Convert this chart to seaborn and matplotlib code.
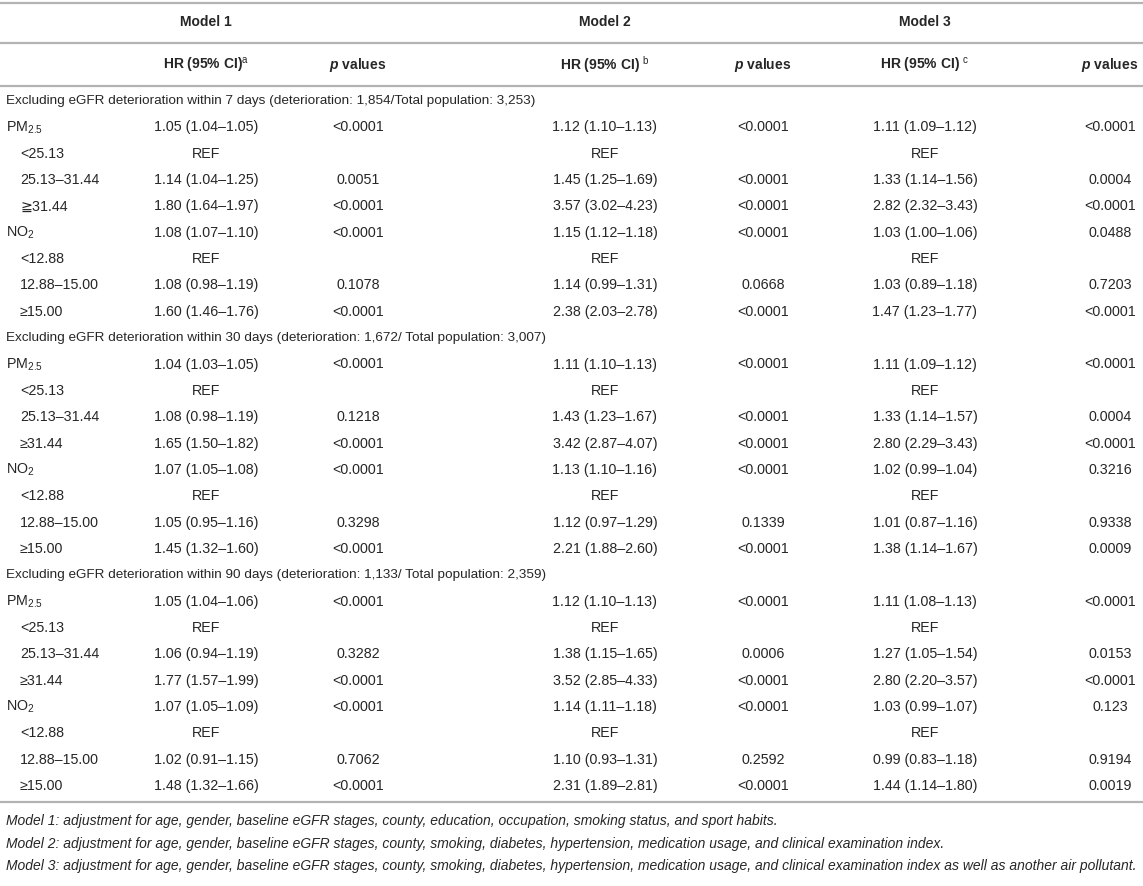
import matplotlib
matplotlib.use("Agg")
import matplotlib.pyplot as plt
import seaborn as sns
import pandas as pd

# --- données du tableau ---
SECTION_TITLES = [
    "Excluding eGFR deterioration within 7 days (deterioration: 1,854/Total population: 3,253)",
    "Excluding eGFR deterioration within 30 days (deterioration: 1,672/ Total population: 3,007)",
    "Excluding eGFR deterioration within 90 days (deterioration: 1,133/ Total population: 2,359)",
]
LABELS_7 = ["PM$_{\\mathrm{2.5}}$", "<25.13", "25.13–31.44", "≧31.44",
            "NO$_{\\mathrm{2}}$", "<12.88", "12.88–15.00", "≥15.00"]
LABELS = ["PM$_{\\mathrm{2.5}}$", "<25.13", "25.13–31.44", "≥31.44",
          "NO$_{\\mathrm{2}}$", "<12.88", "12.88–15.00", "≥15.00"]
INDENTED = [False, True, True, True, False, True, True, True]

m1_hr_7 = ["1.05 (1.04–1.05)", "REF", "1.14 (1.04–1.25)", "1.80 (1.64–1.97)", "1.08 (1.07–1.10)", "REF", "1.08 (0.98–1.19)", "1.60 (1.46–1.76)"]
m1_p_7 = ["<0.0001", "", "0.0051", "<0.0001", "<0.0001", "", "0.1078", "<0.0001"]
m2_hr_7 = ["1.12 (1.10–1.13)", "REF", "1.45 (1.25–1.69)", "3.57 (3.02–4.23)", "1.15 (1.12–1.18)", "REF", "1.14 (0.99–1.31)", "2.38 (2.03–2.78)"]
m2_p_7 = ["<0.0001", "", "<0.0001", "<0.0001", "<0.0001", "", "0.0668", "<0.0001"]
m3_hr_7 = ["1.11 (1.09–1.12)", "REF", "1.33 (1.14–1.56)", "2.82 (2.32–3.43)", "1.03 (1.00–1.06)", "REF", "1.03 (0.89–1.18)", "1.47 (1.23–1.77)"]
m3_p_7 = ["<0.0001", "", "0.0004", "<0.0001", "0.0488", "", "0.7203", "<0.0001"]

m1_hr_30 = ["1.04 (1.03–1.05)", "REF", "1.08 (0.98–1.19)", "1.65 (1.50–1.82)", "1.07 (1.05–1.08)", "REF", "1.05 (0.95–1.16)", "1.45 (1.32–1.60)"]
m1_p_30 = ["<0.0001", "", "0.1218", "<0.0001", "<0.0001", "", "0.3298", "<0.0001"]
m2_hr_30 = ["1.11 (1.10–1.13)", "REF", "1.43 (1.23–1.67)", "3.42 (2.87–4.07)", "1.13 (1.10–1.16)", "REF", "1.12 (0.97–1.29)", "2.21 (1.88–2.60)"]
m2_p_30 = ["<0.0001", "", "<0.0001", "<0.0001", "<0.0001", "", "0.1339", "<0.0001"]
m3_hr_30 = ["1.11 (1.09–1.12)", "REF", "1.33 (1.14–1.57)", "2.80 (2.29–3.43)", "1.02 (0.99–1.04)", "REF", "1.01 (0.87–1.16)", "1.38 (1.14–1.67)"]
m3_p_30 = ["<0.0001", "", "0.0004", "<0.0001", "0.3216", "", "0.9338", "0.0009"]

m1_hr_90 = ["1.05 (1.04–1.06)", "REF", "1.06 (0.94–1.19)", "1.77 (1.57–1.99)", "1.07 (1.05–1.09)", "REF", "1.02 (0.91–1.15)", "1.48 (1.32–1.66)"]
m1_p_90 = ["<0.0001", "", "0.3282", "<0.0001", "<0.0001", "", "0.7062", "<0.0001"]
m2_hr_90 = ["1.12 (1.10–1.13)", "REF", "1.38 (1.15–1.65)", "3.52 (2.85–4.33)", "1.14 (1.11–1.18)", "REF", "1.10 (0.93–1.31)", "2.31 (1.89–2.81)"]
m2_p_90 = ["<0.0001", "", "0.0006", "<0.0001", "<0.0001", "", "0.2592", "<0.0001"]
m3_hr_90 = ["1.11 (1.08–1.13)", "REF", "1.27 (1.05–1.54)", "2.80 (2.20–3.57)", "1.03 (0.99–1.07)", "REF", "0.99 (0.83–1.18)", "1.44 (1.14–1.80)"]
m3_p_90 = ["<0.0001", "", "0.0153", "<0.0001", "0.123", "", "0.9194", "0.0019"]

FOOTNOTES = [
    "Model 1: adjustment for age, gender, baseline eGFR stages, county, education, occupation, smoking status, and sport habits.",
    "Model 2: adjustment for age, gender, baseline eGFR stages, county, smoking, diabetes, hypertension, medication usage, and clinical examination index.",
    "Model 3: adjustment for age, gender, baseline eGFR stages, county, smoking, diabetes, hypertension, medication usage, and clinical examination index as well as another air pollutant.",
]

# on assemble tout dans un DataFrame (une ligne par ligne du tableau)
blocks = [
    (LABELS_7, m1_hr_7, m1_p_7, m2_hr_7, m2_p_7, m3_hr_7, m3_p_7),
    (LABELS, m1_hr_30, m1_p_30, m2_hr_30, m2_p_30, m3_hr_30, m3_p_30),
    (LABELS, m1_hr_90, m1_p_90, m2_hr_90, m2_p_90, m3_hr_90, m3_p_90),
]
rows = []
for title, blk in zip(SECTION_TITLES, blocks):
    rows.append({"label": title, "kind": "section"})
    for i in range(len(blk[0])):
        rows.append({"label": blk[0][i], "kind": "sub" if INDENTED[i] else "main",
                     "hr1": blk[1][i], "p1": blk[2][i], "hr2": blk[3][i],
                     "p2": blk[4][i], "hr3": blk[5][i], "p3": blk[6][i]})
df = pd.DataFrame(rows).fillna("")

# --- style ---
sns.set_theme(style="white")
plt.rcParams["font.family"] = ["Liberation Sans", "DejaVu Sans"]
plt.rcParams["mathtext.fontset"] = "custom"
plt.rcParams["mathtext.rm"] = "Liberation Sans"
plt.rcParams["mathtext.it"] = "Liberation Sans:italic"
plt.rcParams["mathtext.bf"] = "Liberation Sans:bold"
try:
    plt.rcParams["mathtext.bfit"] = "Liberation Sans:italic:bold"
    P_TXT = "$\\mathbfit{p}$ values"
except KeyError:
    P_TXT = "$\\mathit{p}$ values"

TXT = "#262626"
LINE = "#b3b3b3"
FS_SEC = 9.7     # titres de section
FS_CELL = 10.3   # cellules + libellés
FS_HEAD = 10.0   # en-têtes gras
FS_NOTE = 10.0   # notes en italique

W, H = 1143, 886
fig = plt.figure(figsize=(W / 100, H / 100), dpi=100)
ax = fig.add_axes([0, 0, 1, 1])
ax.set_xlim(0, W)
ax.set_ylim(H, 0)
ax.axis("off")

# colonnes (centres) et lignes
COLS = {"hr1": 206, "p1": 358, "hr2": 605, "p2": 763, "hr3": 925, "p3": 1110}
Y_MODEL, Y_HEAD = 22, 65
Y0, DY = 101, 26.35

for y in (3, 43, 86):
    ax.axhline(y, color=LINE, lw=1.6)

for name, key in [("Model 1", "hr1"), ("Model 2", "hr2"), ("Model 3", "hr3")]:
    ax.text(COLS[key], Y_MODEL, name, ha="center", va="center", fontsize=FS_HEAD,
            fontweight="bold", color=TXT)

sup = {"hr1": "HR (95% CI)$^{\\mathrm{a}}$", "hr2": "HR (95% CI) $^{\\mathrm{b}}$",
       "hr3": "HR (95% CI) $^{\\mathrm{c}}$"}
for key, s in sup.items():
    ax.text(COLS[key], Y_HEAD, s, ha="center", va="center", fontsize=FS_HEAD,
            fontweight="bold", color=TXT)
for key in ("p1", "p2", "p3"):
    ax.text(COLS[key], Y_HEAD, P_TXT, ha="center", va="center", fontsize=FS_HEAD,
            fontweight="bold", color=TXT)

for i, r in df.iterrows():
    y = Y0 + i * DY
    if r["kind"] == "section":
        ax.text(6, y, r["label"], ha="left", va="center", fontsize=FS_SEC, color=TXT)
        continue
    x0 = 20 if r["kind"] == "sub" else 6
    ax.text(x0, y, r["label"], ha="left", va="center", fontsize=FS_CELL, color=TXT)
    for key, xc in COLS.items():
        if r[key]:
            ax.text(xc, y, r[key], ha="center", va="center", fontsize=FS_CELL, color=TXT)

y_end = Y0 + (len(df) - 1) * DY
ax.axhline(y_end + 16, color=LINE, lw=1.6)

for k, note in enumerate(FOOTNOTES):
    ax.text(6, y_end + 35 + k * 22.5, note, ha="left", va="center", fontsize=FS_NOTE,
            style="italic", color=TXT)

fig.savefig("out.png", dpi=100, facecolor="white")
